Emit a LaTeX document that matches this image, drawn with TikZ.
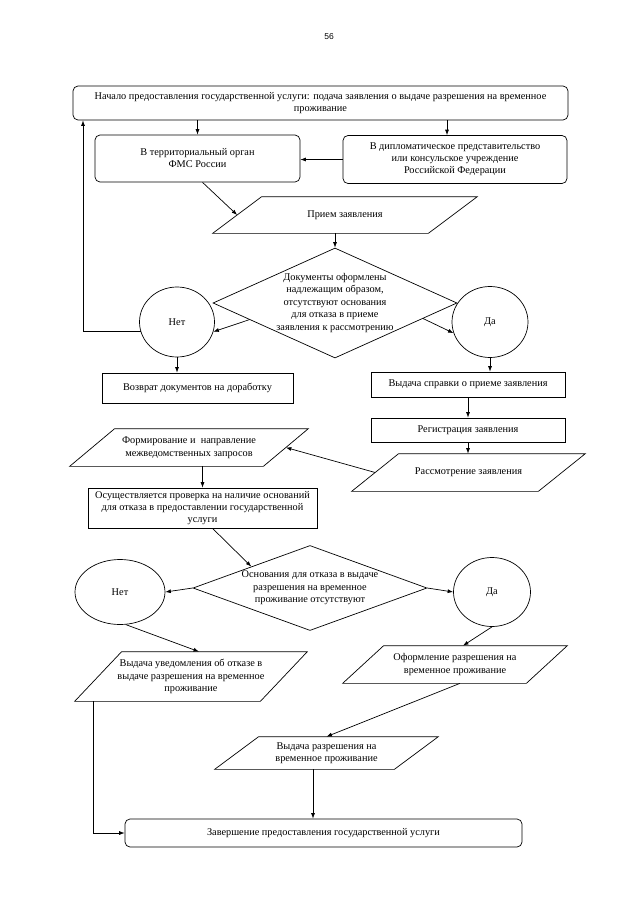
\documentclass[tikz,border=0pt]{standalone}
\usepackage{fontspec}
\setmainfont{Liberation Serif}
\newfontfamily\pagefont{Liberation Sans}
\usetikzlibrary{shapes.geometric,arrows.meta,calc}
\newcommand\drawpara[2]{\draw ([xshift=#2]#1.north west) -- (#1.north east) -- ([xshift=-#2]#1.south east) -- (#1.south west) -- cycle;}
\begin{document}
\begin{tikzpicture}[x=1pt,y=-1pt,
  font=\fontsize{10.3}{12}\selectfont,
  line width=0.7pt,
  arr/.style={-{Latex[length=5.5pt,width=4pt]}},
  rbox/.style={draw, rounded corners=5pt, inner sep=0pt, align=center},
  sbox/.style={draw, inner sep=0pt, align=center},
  para/.style={inner sep=0pt, align=center, font=\fontsize{10.3}{12.5}\selectfont},
  oval/.style={draw, ellipse, inner sep=0pt},
  dia/.style={draw, diamond, inner sep=0pt},
  lbl/.style={align=center, font=\fontsize{10.3}{12.5}\selectfont}
]
\fill[white] (0,0) rectangle (640,905);
\useasboundingbox (0,0) rectangle (640,905);

\node[font=\pagefont\fontsize{8.5}{10}\selectfont] (pg) at (329,37) {56};

\node[rbox, minimum width=495, minimum height=34] (start) at (320.5,103)
  {Начало предоставления государственной услуги: подача заявления о выдаче разрешения на временное\\проживание};
\node[rbox, minimum width=205, minimum height=47] (terr) at (197.5,158.5)
  {В территориальный орган\\ФМС России};
\node[rbox, minimum width=224, minimum height=48] (dipl) at (455,159.5)
  {В дипломатическое представительство\\или консульское учреждение\\Российской Федерации};

\node[para, minimum width=264, minimum height=36] (priem) at (345,215) {Прием заявления};
\drawpara{priem}{49}

\node[dia, minimum width=244, minimum height=110,
  label={[lbl]center:Документы оформлены\\надлежащим образом,\\отсутствуют основания\\для отказа в приеме\\заявления к рассмотрению}] (d1) at (335,303) {};

\node[oval, minimum width=75, minimum height=70] (net1) at (177,322) {Нет};
\node[oval, minimum width=76, minimum height=71] (da1) at (490,322) {Да};

\node[sbox, minimum width=191, minimum height=30] (vozvrat) at (197.5,388)
  {Возврат документов на доработку};
\node[sbox, minimum width=194, minimum height=25] (spravka) at (468,384.5)
  {Выдача справки о приеме заявления};
\node[sbox, minimum width=194, minimum height=24] (registr) at (468,430)
  {Регистрация заявления};

\node[para, minimum width=233, minimum height=37] (rassm) at (468.5,472.5) {Рассмотрение заявления};
\drawpara{rassm}{47}

\node[para, minimum width=238, minimum height=37] (formir) at (189,447.5)
  {Формирование и\ \ направление\\межведомственных запросов};
\drawpara{formir}{45}

\node[sbox, minimum width=229, minimum height=40] (proverka) at (202.5,508)
  {Осуществляется проверка на наличие оснований\\для отказа в предоставлении государственной\\услуги};

\node[dia, minimum width=234, minimum height=85,
  label={[lbl]center:Основания для отказа в выдаче\\разрешения на временное\\проживание отсутствуют}] (d2) at (310,588) {};

\node[oval, minimum width=90, minimum height=65] (net2) at (120,592) {Нет};
\node[oval, minimum width=77, minimum height=69] (da2) at (492,592) {Да};

\node[para, minimum width=232, minimum height=49] (uvedom) at (191,676.5)
  {Выдача уведомления об отказе в\\выдаче разрешения на временное\\проживание};
\drawpara{uvedom}{47}

\node[para, minimum width=224, minimum height=37] (oform) at (455,664.5)
  {Оформление разрешения на\\временное проживание};
\drawpara{oform}{41}

\node[para, minimum width=223, minimum height=32] (vydacha) at (326.5,753)
  {Выдача разрешения на\\временное проживание};
\drawpara{vydacha}{44}

\node[rbox, minimum width=397, minimum height=28] (end) at (323.5,833)
  {Завершение предоставления государственной услуги};

% helper coordinates
\coordinate (cA) at (447,0);
\coordinate (fb) at (83,0);
\coordinate (cB) at (313,0);
\coordinate (cC) at (93,0);

% connectors
\draw[arr] (terr.north |- start.south) -- (terr.north);
\draw[arr] (cA |- start.south) -- (cA |- dipl.north);
\draw[arr] (dipl.west) -- (dipl.west -| terr.east);
\draw[arr] ([xshift=5pt]terr.south) -- ([xshift=24.5pt]priem.west);
\draw[arr] (d1.north |- priem.south) -- (d1.north);
\draw[arr] (d1.191) -- (net1.-15);
\draw[arr] (d1.-10) -- (da1.197);
\draw[arr] (net1.195) -- (net1.195 -| fb) -- (fb |- start.south);
\draw[arr] (net1.south) -- (net1.south |- vozvrat.north);
\draw[arr] (da1.south) -- (da1.south |- spravka.north);
\draw[arr] (spravka.south) -- (registr.north);
\draw[arr] (registr.south) -- (registr.south |- rassm.north);
\draw[arr] ([xshift=23.5pt]rassm.west) -- ([xshift=-22.5pt]formir.east);
\draw[arr] (proverka.north |- formir.south) -- (proverka.north);
\draw[arr] ([xshift=10pt]proverka.south) -- (d2.north west);
\draw[arr] (d2.west) -- (net2.east);
\draw[arr] (d2.east) -- (da2.west);
\draw[arr] (net2.-80) -- ([xshift=8pt]uvedom.north);
\draw[arr] (da2.south) -- ([xshift=8pt]oform.north);
\draw[arr] ([xshift=5pt]oform.south) -- (vydacha.north);
\draw[arr] (cB |- vydacha.south) -- (cB |- end.north);
\draw[arr] (cC |- uvedom.south) -- (cC |- end.west) -- (end.west);
\end{tikzpicture}
\end{document}
